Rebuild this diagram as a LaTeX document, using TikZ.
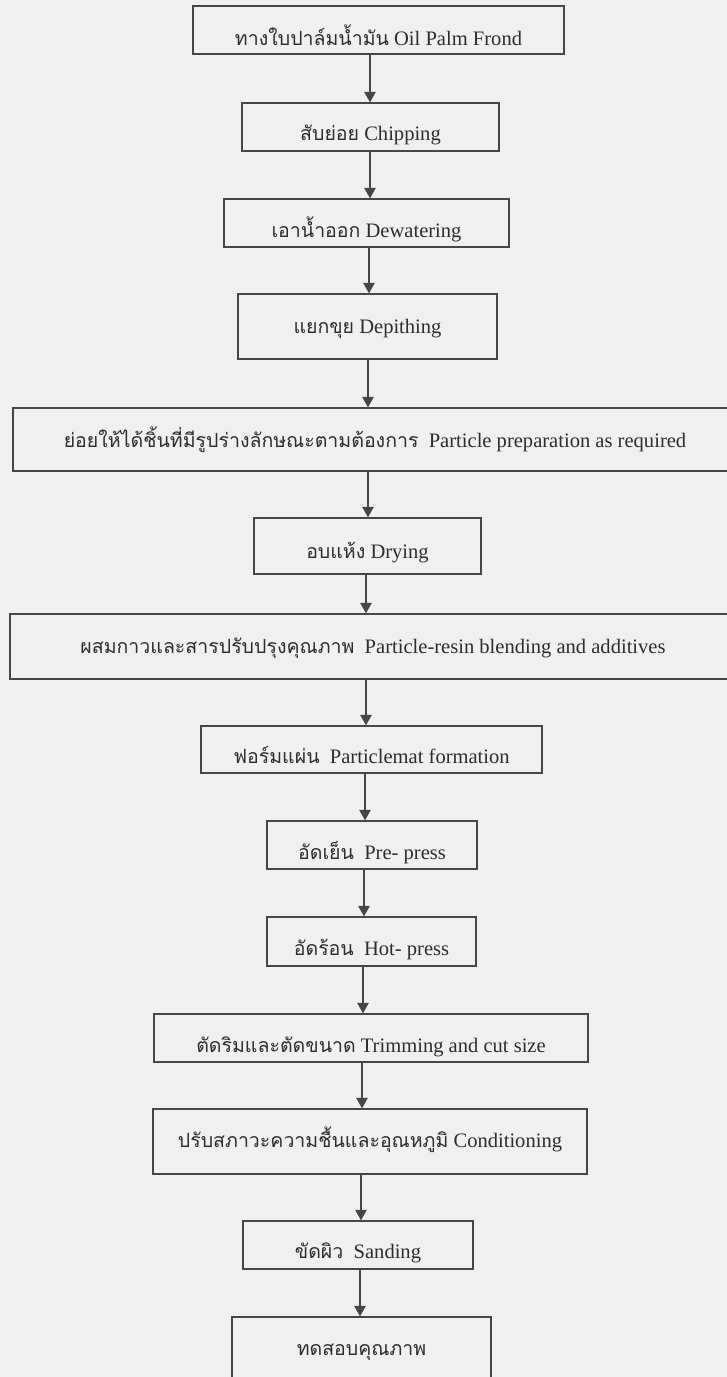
\documentclass[tikz,border=0pt]{standalone}
\usepackage{fontspec}
\setmainfont{Liberation Serif}
\newfontfamily\thaifont[Script=Thai,Scale=0.95]{Loma}
\newcommand{\tha}[1]{{\thaifont #1}}
\usetikzlibrary{arrows.meta}

\definecolor{paper}{RGB}{240,240,240}
\definecolor{linec}{RGB}{70,70,70}
\definecolor{inkc}{RGB}{45,45,45}

\tikzset{
    stepbox/.style={draw=linec, line width=0.7pt, inner sep=0pt, text depth=0pt,
        text=inkc, font=\fontsize{11.7}{14}\selectfont},
    flow/.style={draw=linec, line width=0.7pt, -{Triangle[length=6pt,width=6.5pt]}}
}

\begin{document}
\begin{tikzpicture}[x=0.02cm, y=-0.02cm]
        % 0. page with the reference proportions
        \useasboundingbox (0,0) rectangle (727,1377);
        \clip (0,0) rectangle (727,1377);
        \fill[paper] (0,0) rectangle (727,1377);

        % 1. process steps (top to bottom)
        \node[stepbox, minimum width=7.42cm, minimum height=0.96cm, text height=0.60cm] (b1) at (378.5,30)
            {\tha{ทางใบปาล์มน้ำมัน}\ Oil\ Palm\ Frond};
        \node[stepbox, minimum width=5.14cm, minimum height=0.96cm, text height=0.52cm] (b2) at (370.5,127)
            {\tha{สับย่อย} Chipping};
        \node[stepbox, minimum width=5.70cm, minimum height=0.96cm, text height=0.56cm] (b3) at (366.5,223)
            {\tha{เอาน้ำออก} Dewatering};
        \node[stepbox, minimum width=5.18cm, minimum height=1.30cm, text height=0.28cm] (b4) at (367.5,326.5)
            {\tha{แยกขุย} Depithing};
        \node[stepbox, minimum width=14.48cm, minimum height=1.26cm, text height=0.30cm] (b5) at (375,439.5)
            {\tha{ย่อยให้ได้ชิ้นที่มีรูปร่างลักษณะตามต้องการ}\ \ Particle preparation as required};
        \node[stepbox, minimum width=4.54cm, minimum height=1.12cm, text height=0.48cm] (b6) at (367.5,546)
            {\tha{อบแห้ง} Drying};
        \node[stepbox, minimum width=14.52cm, minimum height=1.30cm, text height=0.28cm] (b7) at (373,646.5)
            {\tha{ผสมกาวและสารปรับปรุงคุณภาพ}\ \ Particle-resin blending and additives};
        \node[stepbox, minimum width=6.82cm, minimum height=0.94cm, text height=0.54cm] (b8) at (371.5,749.5)
            {\tha{ฟอร์มแผ่น}\ \ Particlemat formation};
        \node[stepbox, minimum width=4.20cm, minimum height=0.96cm, text height=0.56cm] (b9) at (372,845)
            {\tha{อัดเย็น}\ \ Pre- press};
        \node[stepbox, minimum width=4.18cm, minimum height=0.98cm, text height=0.54cm] (b10) at (371.5,941.5)
            {\tha{อัดร้อน}\ \ Hot- press};
        \node[stepbox, minimum width=8.68cm, minimum height=0.96cm, text height=0.56cm] (b11) at (371,1038)
            {\tha{ตัดริมและตัดขนาด} Trimming and cut size};
        \node[stepbox, minimum width=8.68cm, minimum height=1.30cm, text height=0.22cm] (b12) at (370,1141.5)
            {\tha{ปรับสภาวะความชื้นและอุณหภูมิ} Conditioning};
        \node[stepbox, minimum width=4.60cm, minimum height=0.96cm, text height=0.52cm] (b13) at (358,1245)
            {\tha{ขัดผิว}\ \ Sanding};
        \node[stepbox, minimum width=5.18cm, minimum height=1.36cm, text height=0.16cm] (b14) at (361.5,1351)
            {\tha{ทดสอบคุณภาพ}};

        % 2. arrows between the steps
        \foreach \a/\b/\x in {b1/b2/370, b2/b3/370, b3/b4/369, b4/b5/368, b5/b6/368,
                b6/b7/366, b7/b8/366, b8/b9/365, b9/b10/364, b10/b11/363,
                b11/b12/362, b12/b13/361, b13/b14/360}
            \draw[flow] (\a.south -| \x,0) -- (\b.north -| \x,0);

    \end{tikzpicture}
\end{document}
